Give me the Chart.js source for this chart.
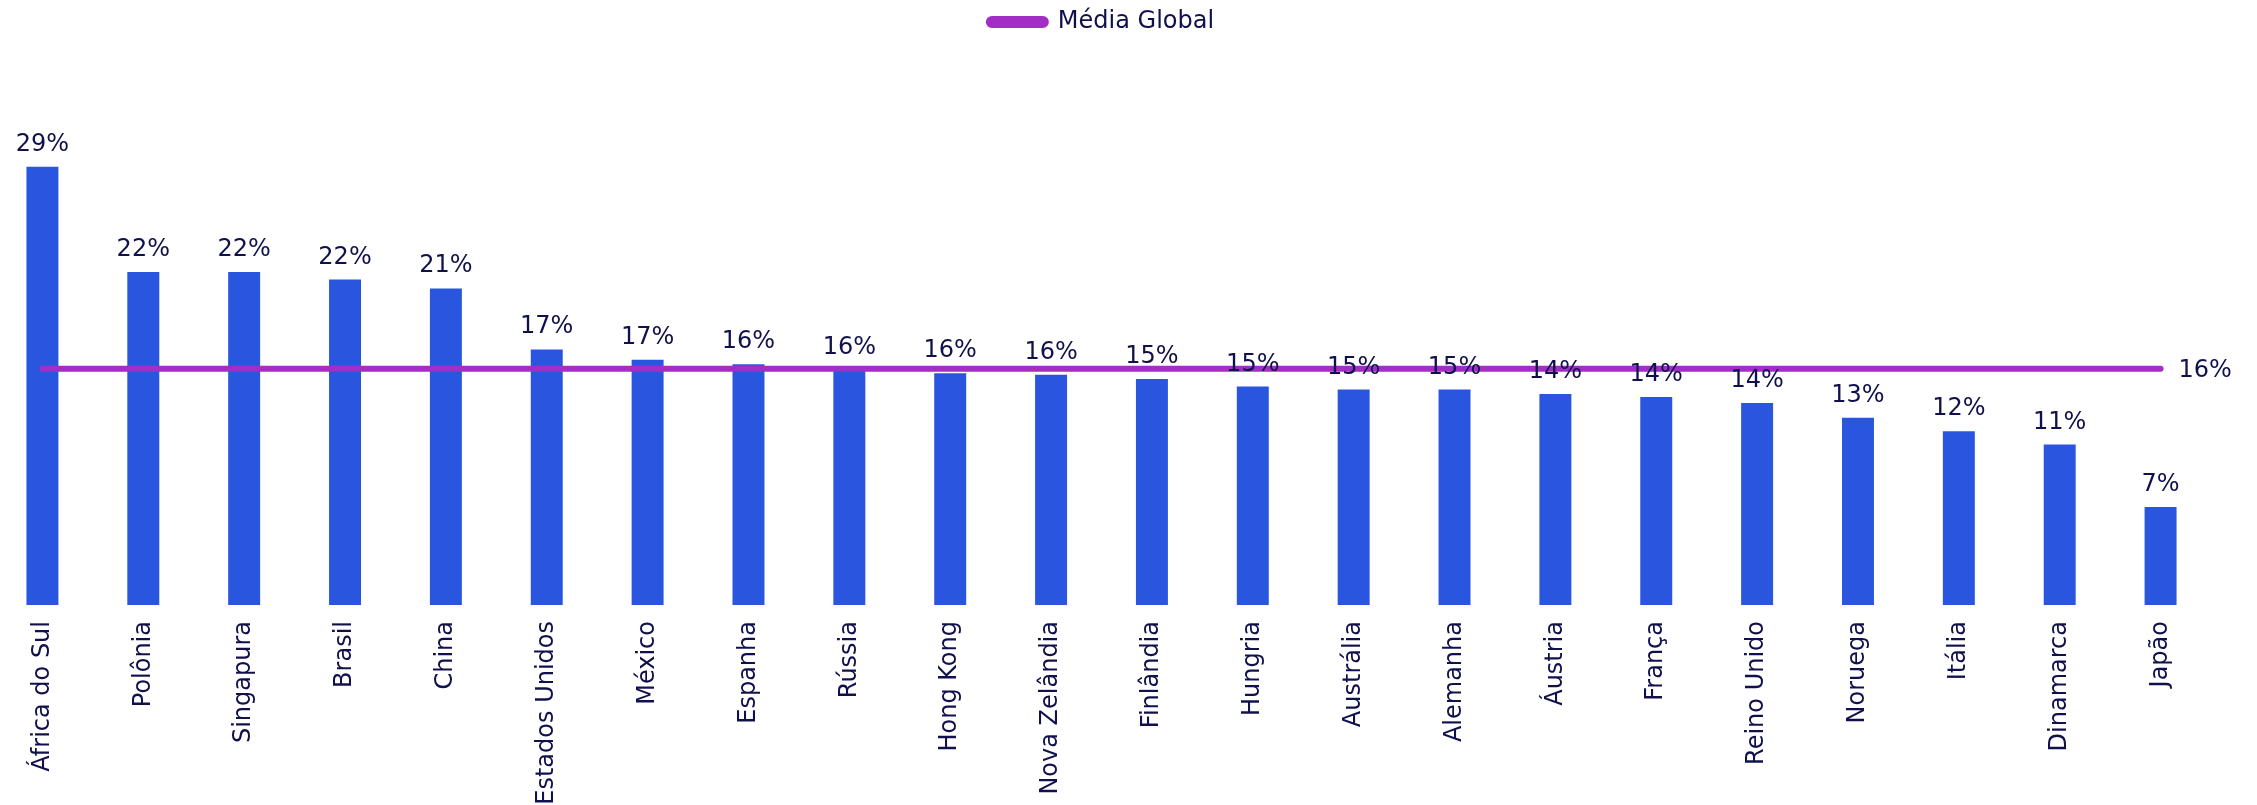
<!DOCTYPE html>
<html>
<head>
<meta charset="utf-8">
<script src="https://cdn.jsdelivr.net/npm/chart.js@4/dist/chart.umd.min.js"></script>
<style>
  html, body { margin: 0; padding: 0; background: #fff; overflow: hidden; }
  #wrap { position: absolute; left: -8px; top: 0; width: 2266px; height: 805px; }
</style>
</head>
<body>
<div id="wrap"><canvas id="chart"></canvas></div>
<script>
// data (percent)
var paises = ["África do Sul", "Polônia", "Singapura", "Brasil", "China", "Estados Unidos", "México", "Espanha", "Rússia", "Hong Kong", "Nova Zelândia", "Finlândia", "Hungria", "Austrália", "Alemanha", "Áustria", "França", "Reino Unido", "Noruega", "Itália", "Dinamarca", "Japão"];
var valores = [29.49, 22.4, 22.4, 21.9, 21.3, 17.2, 16.5, 16.2, 15.8, 15.6, 15.5, 15.2, 14.7, 14.5, 14.5, 14.2, 14.0, 13.6, 12.6, 11.7, 10.8, 6.6];
var mediaGlobal = 15.9;
var mediaLabel = "Média Global";

var corTexto = "#10104c";
var corBarra = "#2a56df";
var corLinha = "#a22ec6";
var fonte = "'DejaVu Sans', Verdana, sans-serif";

var rotulos = {
  id: "rotulos",
  afterDatasetsDraw: function(chart) {
    var ctx = chart.ctx;
    ctx.save();
    ctx.font = "24px " + fonte;
    ctx.fillStyle = corTexto;
    ctx.textAlign = "center";
    ctx.textBaseline = "alphabetic";
    chart.getDatasetMeta(1).data.forEach(function(bar, i) {
      ctx.fillText(Math.round(valores[i]) + "%", bar.x, bar.y - 16);
    });
    var pts = chart.getDatasetMeta(0).data;
    var last = pts[pts.length - 1];
    ctx.textAlign = "left";
    ctx.textBaseline = "middle";
    ctx.fillText(Math.round(mediaGlobal) + "%", last.x + 18, last.y + 2);
    ctx.restore();
  }
};

new Chart(document.getElementById("chart"), {
  type: "bar",
  data: {
    labels: paises,
    datasets: [
      {
        type: "line",
        label: mediaLabel,
        data: paises.map(function() { return mediaGlobal; }),
        borderColor: corLinha,
        backgroundColor: corLinha,
        borderWidth: 6,
        borderCapStyle: "round",
        pointRadius: 0,
        fill: false,
        order: 0
      },
      {
        label: "Países",
        data: valores,
        backgroundColor: corBarra,
        categoryPercentage: 1,
        barPercentage: 0.317,
        order: 1
      }
    ]
  },
  options: {
    responsive: true,
    maintainAspectRatio: false,
    animation: false,
    layout: { padding: { left: 0, right: 47, top: 0, bottom: 0 } },
    plugins: {
      tooltip: { enabled: false },
      legend: {
        display: true,
        position: "top",
        labels: {
          filter: function(item) { return item.text === mediaLabel; },
          boxWidth: 57,
          boxHeight: 6,
          useBorderRadius: true,
          borderRadius: 3,
          color: corTexto,
          padding: 10,
          font: { family: fonte, size: 24 }
        }
      }
    },
    scales: {
      x: {
        offset: true,
        grid: { display: false, drawTicks: false },
        border: { display: false },
        ticks: {
          minRotation: 90,
          maxRotation: 90,
          autoSkip: false,
          padding: 16,
          color: corTexto,
          font: { family: fonte, size: 24 }
        },
        afterFit: function(scale) { scale.height = 200; }
      },
      y: {
        display: false,
        min: 0,
        max: 37.75
      }
    }
  },
  plugins: [rotulos]
});
</script>
</body>
</html>
